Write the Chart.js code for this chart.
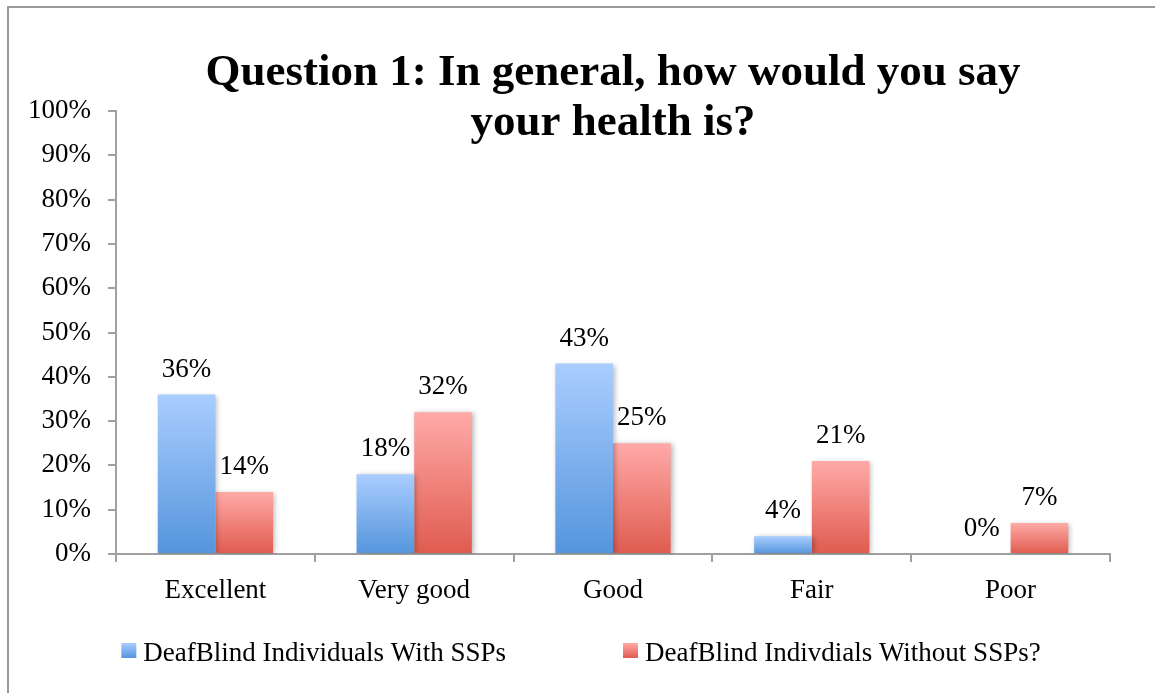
<!DOCTYPE html>
<html>
<head>
<meta charset="utf-8">
<script src="https://cdn.jsdelivr.net/npm/chart.js@4"></script>
<style>
  html, body { margin: 0; padding: 0; background: #fff; }
  #wrap { width: 1155px; height: 693px; position: relative; }
</style>
</head>
<body>
<div id="wrap"><canvas id="c" width="1155" height="693"></canvas></div>
<script>
// Survey answers, percent of respondents in each group
const categories = ['Excellent', 'Very good', 'Good', 'Fair', 'Poor'];
const withSSPs = [36, 18, 43, 4, 0];
const withoutSSPs = [14, 32, 25, 21, 7];
const seriesNames = ['DeafBlind Individuals With SSPs', 'DeafBlind Indivdials Without SSPs?'];
const yTicks = [0, 10, 20, 30, 40, 50, 60, 70, 80, 90, 100];
const titleLines = ['Question 1: In general, how would you say', 'your health is?'];

const SERIF = '"Liberation Serif", "Times New Roman", serif';
const BLUE = { top: '#aacdff', bottom: '#5495dc' };
const RED = { top: '#ffaaa8', bottom: '#df5b4f' };

// vertical gradient that runs from the top of each bar down to its base
function barGradient(col) {
  return (ctx) => {
    const chart = ctx.chart;
    const ys = chart.scales && chart.scales.y;
    if (!chart.chartArea || !ys || ctx.raw === undefined) return col.bottom;
    const y0 = ys.getPixelForValue(0);
    const y1 = ys.getPixelForValue(ctx.raw);
    if (y0 - y1 < 1) return col.bottom;
    const g = chart.ctx.createLinearGradient(0, y1, 0, y0);
    g.addColorStop(0, col.top);
    g.addColorStop(1, col.bottom);
    return g;
  };
}

// outer frame (left and top edges)
const framePlugin = {
  id: 'frame',
  beforeDraw(chart) {
    const c = chart.ctx;
    c.save();
    c.fillStyle = '#fff';
    c.fillRect(0, 0, chart.width, chart.height);
    c.fillStyle = '#9a9a9a';
    c.fillRect(7, 6, 2, chart.height - 6);
    c.fillRect(7, 6, chart.width - 7, 2);
    c.restore();
  }
};

// soft drop shadow under the bars
const shadowPlugin = {
  id: 'barShadow',
  beforeDatasetsDraw(chart) {
    const c = chart.ctx;
    c.save();
    c.shadowColor = 'rgba(0,0,0,0.28)';
    c.shadowBlur = 5;
    c.shadowOffsetX = 2;
    c.shadowOffsetY = 1;
  },
  afterDatasetsDraw(chart) {
    chart.ctx.restore();
  }
};

// value labels above each bar
const valueLabels = {
  id: 'valueLabels',
  afterDatasetsDraw(chart) {
    const c = chart.ctx;
    c.save();
    c.font = '27px ' + SERIF;
    c.fillStyle = '#000';
    c.textAlign = 'center';
    c.textBaseline = 'alphabetic';
    chart.data.datasets.forEach((ds, i) => {
      const meta = chart.getDatasetMeta(i);
      meta.data.forEach((bar, j) => {
        c.fillText(ds.data[j] + '%', bar.x, bar.y - 18);
      });
    });
    c.restore();
  }
};

// legend row under the axis
const legendRow = {
  id: 'legendRow',
  afterDraw(chart) {
    const c = chart.ctx;
    const cols = [BLUE, RED];
    const box = 15, gapText = 7, gapItem = 117;
    const baseline = 661, boxTop = 643;
    c.save();
    c.font = '27px ' + SERIF;
    c.fillStyle = '#000';
    c.textBaseline = 'alphabetic';
    c.textAlign = 'left';
    const names = chart.data.datasets.map(d => d.label);
    const widths = names.map(n => c.measureText(n).width);
    let total = 0;
    widths.forEach((w, i) => { total += box + gapText + w + (i ? gapItem : 0); });
    let x = 581 - total / 2;
    names.forEach((n, i) => {
      const g = c.createLinearGradient(0, boxTop, 0, boxTop + box);
      g.addColorStop(0, cols[i].top);
      g.addColorStop(1, cols[i].bottom);
      c.fillStyle = g;
      c.fillRect(x, boxTop, box, box);
      c.fillStyle = '#000';
      c.fillText(n, x + box + gapText, baseline);
      x += box + gapText + widths[i] + gapItem;
    });
    c.restore();
  }
};

new Chart(document.getElementById('c'), {
  type: 'bar',
  data: {
    labels: categories,
    datasets: [
      { label: seriesNames[0], data: withSSPs, backgroundColor: barGradient(BLUE), borderWidth: 0 },
      { label: seriesNames[1], data: withoutSSPs, backgroundColor: barGradient(RED), borderWidth: 0 }
    ]
  },
  options: {
    responsive: false,
    animation: false,
    devicePixelRatio: 1,
    layout: { padding: { left: 0, right: 45, top: 0, bottom: 79 } },
    datasets: { bar: { categoryPercentage: 0.58, barPercentage: 1.0 } },
    plugins: {
      legend: { display: false },
      tooltip: { enabled: false },
      title: {
        display: true,
        text: titleLines,
        color: '#000',
        fullSize: false,
        font: { family: SERIF, size: 45, weight: 'bold', lineHeight: 1.1 },
        padding: { top: 49, bottom: -37 }
      }
    },
    scales: {
      x: {
        grid: { display: true, drawOnChartArea: false, drawTicks: true, tickLength: 8, color: '#a0a0a0', lineWidth: 2, offset: true },
        border: { display: true, color: '#a0a0a0', width: 2 },
        ticks: { color: '#000', font: { family: SERIF, size: 27 }, padding: 13, maxRotation: 0 },
        afterFit: (s) => { s.height = 60; }
      },
      y: {
        min: 0,
        max: 100,
        afterBuildTicks: (s) => { s.ticks = yTicks.map(v => ({ value: v })); },
        grid: { display: true, drawOnChartArea: false, drawTicks: true, tickLength: 8, color: '#a0a0a0', lineWidth: 2 },
        border: { display: true, color: '#a0a0a0', width: 2 },
        ticks: { color: '#000', font: { family: SERIF, size: 27 }, padding: 17, callback: (v) => v + '%' },
        afterFit: (s) => { s.width = 116; }
      }
    }
  },
  plugins: [framePlugin, shadowPlugin, valueLabels, legendRow]
});
</script>
</body>
</html>
